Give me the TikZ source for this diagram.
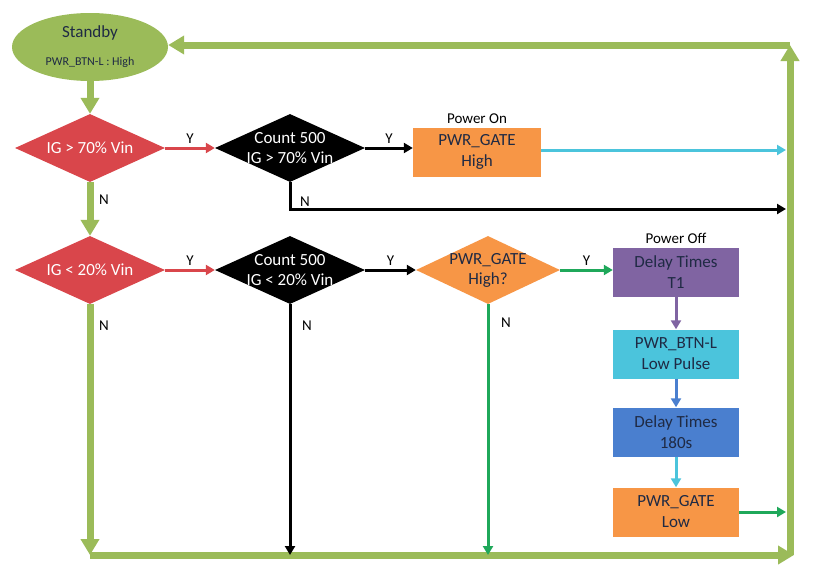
\documentclass[tikz,border=0pt]{standalone}
\usepackage{fontspec}
\setmainfont{Carlito}
\usetikzlibrary{shapes.geometric,arrows.meta,positioning}
\definecolor{lg}{HTML}{9BBB59}
\definecolor{rd}{HTML}{D9464B}
\definecolor{og}{HTML}{F79646}
\definecolor{pu}{HTML}{8064A2}
\definecolor{cy}{HTML}{4BC4DC}
\definecolor{bl}{HTML}{4A7FCF}
\definecolor{gr}{HTML}{1FA85A}
\definecolor{tx}{HTML}{1F2A44}
\begin{document}
\begin{tikzpicture}[x=1pt,y=-1pt,
 dia/.style={diamond,draw=none,minimum width=150pt,minimum height=68pt,inner sep=0pt},
 dt/.style={align=center,font=\fontsize{17}{20}\selectfont},
 box/.style={rectangle,minimum width=128pt,minimum height=49pt,align=center,font=\fontsize{17}{21}\selectfont,text=tx},
 big/.style={line width=7pt,draw=lg,-{Triangle[length=16pt,width=18pt]}},
 thin/.style={line width=3pt,-{Triangle[length=9pt,width=10pt]}},
 lab/.style={font=\fontsize{15}{17}\selectfont,text=black}]
\useasboundingbox (0,0) rectangle (813,570);
\node[ellipse,fill=lg,minimum width=156pt,minimum height=68pt,inner sep=0pt] (sb) at (90,47) {};
\node[font=\fontsize{17}{19}\selectfont,text=tx] (sbt) at (90,33) {Standby};
\node[font=\fontsize{12}{14}\selectfont,text=tx] (sbs) at (90,62) {PWR\_BTN-L : High};
\node[dia,fill=rd] (d1) at (90,148) {};
\node[dt,text=white] (t1) at (d1) {IG > 70\% Vin};
\node[dia,fill=black] (d2) at (290,148) {};
\node[dt,text=white] (t2) at (d2) {Count 500\\IG > 70\% Vin};
\node[box,fill=og] (on) at (477,152) {PWR\_GATE\\High};
\node[lab,above=0pt of on] (onl) {Power On};
\node[dia,fill=rd] (d3) at (90,270) {};
\node[dt,text=white] (t3) at (d3) {IG < 20\% Vin};
\node[dia,fill=black] (d4) at (290,270) {};
\node[dt,text=white] (t4) at (d4) {Count 500\\IG < 20\% Vin};
\node[dia,fill=og,minimum width=144pt] (d5) at (488,270) {};
\node[dt,text=tx] (t5) at (d5) {PWR\_GATE\\High?};
\node[box,fill=pu,minimum width=126pt] (b1) at (676,272) {Delay Times\\T1};
\node[lab,above=0pt of b1] (offl) {Power Off};
\node[box,fill=cy,minimum width=126pt] (b2) at (676,354) {PWR\_BTN-L\\Low Pulse};
\node[box,fill=bl,minimum width=126pt] (b3) at (676,432) {Delay Times\\180s};
\node[box,fill=og,minimum width=126pt] (b4) at (676,512) {PWR\_GATE\\Low};
\coordinate (tr) at (790,45);
\coordinate (br) at (790,555);
\coordinate (bl0) at (90,555);
\coordinate (r1) at (786,150);
\coordinate (r2) at (786,209);
\coordinate (r3) at (786,512);
\coordinate (k2) at (290,209);
\coordinate (e4) at (290,555);
\coordinate (e5) at (488,555);
\draw[big] (sb.south) -- (d1.north);
\draw[big] (d1.south) -- (d3.north);
\draw[big] (d3.south) -- (bl0);
\draw[big,shorten >=-4pt] (bl0) -- (br);
\draw[big] (br) -- (tr);
\draw[big] (tr) -- (sb.east |- tr);
\draw[thin,draw=rd] (d1.east) -- (d2.west) node[lab,midway,above] (y1) {Y};
\draw[thin,draw=black] (d2.east) -- (on.west |- d2.east) node[lab,midway,above] (y2) {Y};
\draw[thin,draw=cy] (on.east |- r1) -- (r1);
\draw[thin,draw=black] (d2.south) -- (k2) -- (r2);
\node[lab] (n2) at (305,202) {N};
\node[lab] (n1) at (104,200) {N};
\draw[thin,draw=rd] (d3.east) -- (d4.west) node[lab,midway,above] (y3) {Y};
\draw[thin,draw=black] (d4.east) -- (d5.west) node[lab,midway,above] (y4) {Y};
\draw[thin,draw=gr] (d5.east) -- (b1.west |- d5.east) node[lab,midway,above] (y5) {Y};
\draw[thin,draw=pu] (b1) -- (b2);
\draw[thin,draw=bl] (b2) -- (b3);
\draw[thin,draw=cy] (b3) -- (b4);
\draw[thin,draw=gr] (b4.east) -- (r3);
\draw[thin,draw=black] (d4.south) -- (e4);
\draw[thin,draw=gr] (d5.south) -- (e5);
\node[lab] (n3) at (104,326) {N};
\node[lab] (n4) at (307,326) {N};
\node[lab] (n5) at (506,323) {N};
\end{tikzpicture}
\end{document}
